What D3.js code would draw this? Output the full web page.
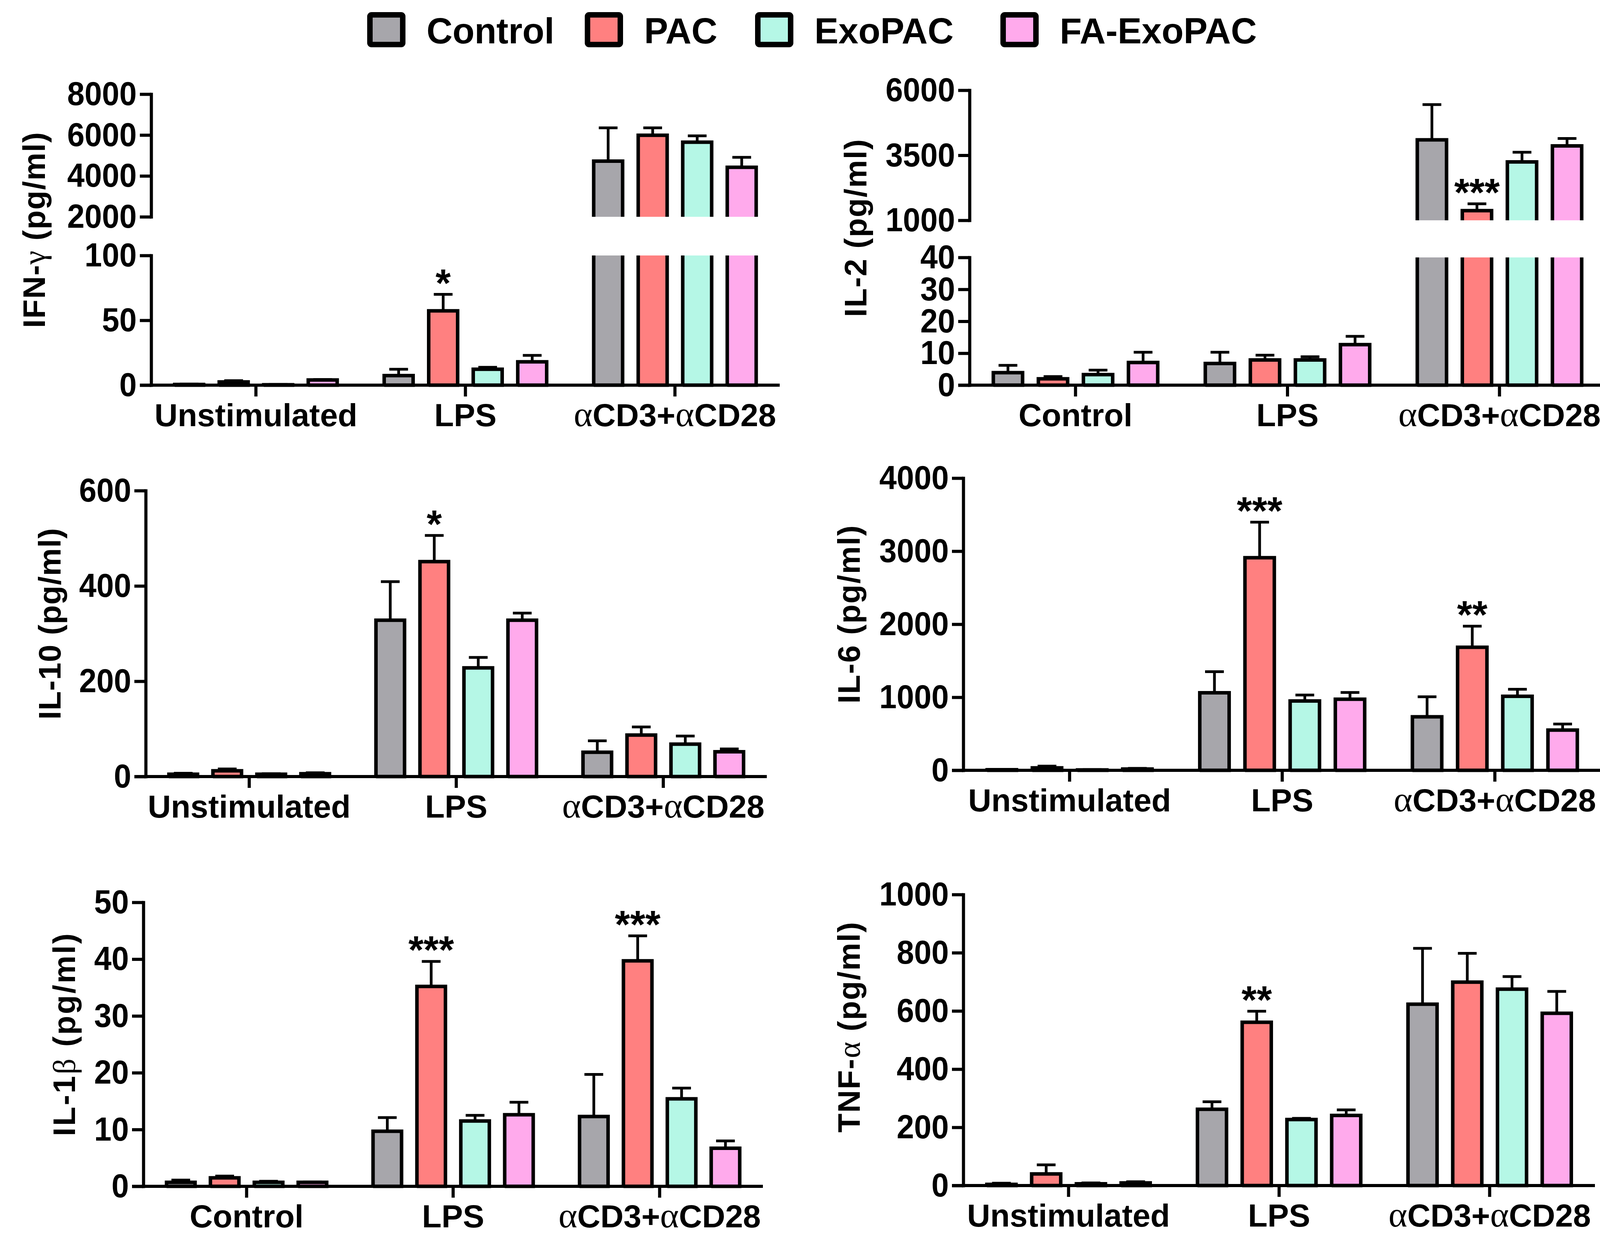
<!DOCTYPE html>
<html>
<head>
<meta charset="utf-8">
<script src="https://cdn.jsdelivr.net/npm/d3@7"></script>
<style>
  body { margin: 0; background: #fff; }
  text { font-family: "Liberation Sans", Arial, sans-serif; font-weight: bold; fill: #000; }
  .ytick text { font-size: 86px; }
  .cat { font-size: 82px; }
  .legend text { font-size: 92px; }
  .ytitle { font-size: 80px; }
  .star { font-size: 100px; }
  .greek { font-family: "Liberation Serif", "DejaVu Serif", serif; font-weight: normal; }
  .cat .greek { font-size: 92px; }
</style>
</head>
<body>
<div id="chart"></div>
<script>
// ---- data ----
const groups = ["Control", "PAC", "ExoPAC", "FA-ExoPAC"];
const colors = ["#a7a6ab", "#ff8080", "#b5f7e6", "#ffaaec"];

const stimCats = ["Unstimulated", "LPS", "αCD3+αCD28"];
const ctrlCats = ["Control", "LPS", "αCD3+αCD28"];

// rows = categories, columns = Control, PAC, ExoPAC, FA-ExoPAC
const ifngMean = [[0.5, 2.5, 0.3, 4], [7.4, 57.3, 12.3, 18], [4725, 5990, 5650, 4420]];
const ifngSem  = [[0.3, 1, 0.2, 0.4], [4.9, 12.7, 1.5, 5], [1625, 360, 310, 490]];
const ifngTicksLow = [0, 50, 100];
const ifngTicksHigh = [2000, 4000, 6000, 8000];
const ifngStars = [[1, 1, "*"]];

const il2Mean = [[3.9, 2.0, 3.3, 7.1], [6.8, 7.9, 7.9, 12.7], [4093, 1371, 3246, 3860]];
const il2Sem  = [[2.3, 0.7, 1.4, 3.2], [3.5, 1.5, 1.0, 2.6], [1356, 265, 370, 286]];
const il2TicksLow = [0, 10, 20, 30, 40];
const il2TicksHigh = [1000, 3500, 6000];
const il2Stars = [[2, 1, "***"]];

const il10Mean = [[5, 12, 5, 6], [328, 451, 228, 328], [51, 87, 68, 52]];
const il10Sem  = [[2, 4, 1, 2], [81, 55, 22, 15], [24, 17, 17, 6]];
const il10Ticks = [0, 200, 400, 600];
const il10Stars = [[1, 1, "*"]];

const il6Mean = [[8, 34, 6, 17], [1062, 2911, 949, 973], [733, 1685, 1014, 551]];
const il6Sem  = [[4, 24, 3, 10], [288, 486, 82, 92], [274, 288, 96, 83]];
const il6Ticks = [0, 1000, 2000, 3000, 4000];
const il6Stars = [[1, 1, "***"], [2, 1, "**"]];

const il1bMean = [[0.7, 1.5, 0.7, 0.7], [9.7, 35.2, 11.5, 12.6], [12.3, 39.7, 15.4, 6.7]];
const il1bSem  = [[0.4, 0.3, 0.2, 0.05], [2.4, 4.4, 1.0, 2.2], [7.4, 4.4, 1.9, 1.3]];
const il1bTicks = [0, 10, 20, 30, 40, 50];
const il1bStars = [[1, 1, "***"], [2, 1, "***"]];

const tnfMean = [[4, 40, 6, 9], [262, 561, 227, 241], [623, 699, 675, 592]];
const tnfSem  = [[4, 31, 3, 4], [26, 38, 4, 19], [192, 99, 43, 75]];
const tnfTicks = [0, 200, 400, 600, 800, 1000];
const tnfStars = [[1, 1, "**"]];

// ---- layout ----
const W = 4152, H = 3200;
const TICK = 29, AXW = 8, BARW = 9;
const NARROW = 0.93; // tick numbers are slightly condensed

const panels = [
  { title: ["IFN-", "γ", " (pg/ml)"], titleX: 86, titleY: 589, titleLen: 501,
    cats: stimCats, mean: ifngMean, sem: ifngSem, stars: ifngStars, x0: 387, x1: 1996,
    segs: [{ ticks: ifngTicksLow, range: [986, 654] }, { ticks: ifngTicksHigh, range: [555, 241] }] },
  { title: ["IL-2 (pg/ml)"], titleX: 2189, titleY: 584, titleLen: 455,
    cats: ctrlCats, mean: il2Mean, sem: il2Sem, stars: il2Stars, x0: 2482, x1: 4110,
    segs: [{ ticks: il2TicksLow, range: [986, 659] }, { ticks: il2TicksHigh, range: [564, 231] }] },
  { title: ["IL-10 (pg/ml)"], titleX: 126, titleY: 1597, titleLen: 490,
    cats: stimCats, mean: il10Mean, sem: il10Sem, stars: il10Stars, x0: 373, x1: 1963,
    segs: [{ ticks: il10Ticks, range: [1988, 1256] }] },
  { title: ["IL-6 (pg/ml)"], titleX: 2172, titleY: 1573, titleLen: 456,
    cats: stimCats, mean: il6Mean, sem: il6Sem, stars: il6Stars, x0: 2466, x1: 4099,
    segs: [{ ticks: il6Ticks, range: [1972, 1224] }] },
  { title: ["IL-1", "β", " (pg/ml)"], titleX: 163, titleY: 2649, titleLen: 519,
    cats: ctrlCats, mean: il1bMean, sem: il1bSem, stars: il1bStars, x0: 367, x1: 1953,
    segs: [{ ticks: il1bTicks, range: [3037, 2310] }] },
  { title: ["TNF-", "α", " (pg/ml)"], titleX: 2172, titleY: 2630, titleLen: 539,
    cats: stimCats, mean: tnfMean, sem: tnfSem, stars: tnfStars, x0: 2466, x1: 4083,
    segs: [{ ticks: tnfTicks, range: [3035, 2290] }] }
];

const svg = d3.select("#chart").append("svg")
  .attr("width", W).attr("height", H)
  .style("display", "block");
svg.append("rect").attr("width", W).attr("height", H).attr("fill", "#fff");

// split "αCD3+αCD28" etc. into greek / latin tspans
function greekSpans(sel, str) {
  str.split(/([αβγ])/).filter(s => s.length).forEach(s => {
    sel.append("tspan").attr("class", /[αβγ]/.test(s) ? "greek" : null).text(s);
  });
}

function drawPanel(p) {
  const g = svg.append("g");
  const x = d3.scaleBand().domain(p.cats).range([p.x0, p.x1]);
  const half = 0.425 * x.bandwidth();
  const xi = d3.scaleBand().domain(groups).range([-half, half]).paddingInner(0.35).paddingOuter(0.175);
  const segs = p.segs.map(s => ({ lo: d3.min(s.ticks), hi: d3.max(s.ticks), ticks: s.ticks,
    y: d3.scaleLinear().domain(d3.extent(s.ticks)).range(s.range) }));
  const base = segs[0].y(0);

  // bars, split over the broken axis where needed
  p.cats.forEach((c, i) => {
    const cx = x(c) + x.bandwidth() / 2;
    groups.forEach((grp, j) => {
      const v = p.mean[i][j], e = p.sem[i][j];
      const l = cx + xi(grp), r = l + xi.bandwidth();
      segs.forEach((s, k) => {
        if (k > 0 && v <= s.lo) return;
        const yt = s.y(Math.min(v, s.hi)), yb = s.y(s.lo);
        const openTop = v > s.hi, openBottom = k > 0;
        g.append("rect").attr("x", l).attr("y", yt).attr("width", r - l).attr("height", yb - yt)
          .attr("fill", colors[j]);
        g.append("path")
          .attr("d", `M${l},${yb}V${yt}` + (openTop ? `M${r},${yt}` : `H${r}`) + `V${yb}` + (openBottom ? "" : `H${l}`))
          .attr("fill", "none").attr("stroke", "#000").attr("stroke-width", BARW);
      });
      // error bar (upper SEM)
      const s = segs.find(s => v >= s.lo && v <= s.hi) || segs[0];
      const ym = s.y(v), ye = s.y(v + e);
      const mx = (l + r) / 2;
      g.append("path").attr("d", `M${mx},${ym}V${ye}M${mx - 24},${ye}H${mx + 24}`)
        .attr("fill", "none").attr("stroke", "#000").attr("stroke-width", 7);
    });
  });

  // significance stars
  p.stars.forEach(([i, j, lab]) => {
    const v = p.mean[i][j] + p.sem[i][j];
    const s = segs.find(s => v >= s.lo && v <= s.hi) || segs[0];
    const mx = x(p.cats[i]) + x.bandwidth() / 2 + xi(groups[j]) + xi.bandwidth() / 2;
    g.append("text").attr("class", "star").attr("x", mx).attr("y", s.y(v) + 5)
      .attr("text-anchor", "middle").text(lab);
  });

  // y axis segments
  segs.forEach(s => {
    const ax = g.append("g").attr("class", "ytick").attr("transform", `translate(${p.x0},0)`)
      .call(d3.axisLeft(s.y).tickValues(s.ticks).tickSize(TICK).tickSizeOuter(0).tickPadding(8).tickFormat(d3.format("d")));
    ax.attr("font-size", null).attr("font-family", null);
    ax.selectAll("line, path").attr("stroke-width", AXW);
    ax.select(".domain").attr("stroke-linecap", "square");
    ax.selectAll(".tick text")
      .attr("x", -(TICK + 8) / NARROW)
      .attr("transform", `scale(${NARROW},1)`);
  });

  // x axis
  const xa = g.append("g").attr("transform", `translate(0,${base})`)
    .call(d3.axisBottom(x).tickSize(TICK).tickSizeOuter(0).tickPadding(18));
  xa.attr("font-size", null).attr("font-family", null);
  xa.selectAll("line, path").attr("stroke-width", AXW);
  xa.select(".domain").attr("d", `M${p.x0 - TICK},0H${p.x1}`);
  xa.selectAll(".tick text").attr("class", "cat").each(function (d) {
    greekSpans(d3.select(this).text(""), d);
  });

  // y title
  const tt = g.append("text").attr("class", "ytitle")
    .attr("transform", `translate(${p.titleX},${p.titleY}) rotate(-90)`)
    .attr("y", 29).attr("text-anchor", "middle")
    .attr("textLength", p.titleLen).attr("lengthAdjust", "spacing");
  p.title.forEach(s => tt.append("tspan").attr("class", /[αβγ]/.test(s) ? "greek" : null).text(s));
}

panels.forEach(drawPanel);

// legend
const legendX = [940, 1497, 1933, 2561];
const lg = svg.append("g").attr("class", "legend");
groups.forEach((grp, j) => {
  lg.append("rect").attr("x", legendX[j] + 7).attr("y", 38).attr("width", 84).attr("height", 76)
    .attr("rx", 4).attr("fill", colors[j]).attr("stroke", "#000").attr("stroke-width", 14);
  lg.append("text").attr("x", legendX[j] + 152).attr("y", 111).text(grp);
});
</script>
</body>
</html>
